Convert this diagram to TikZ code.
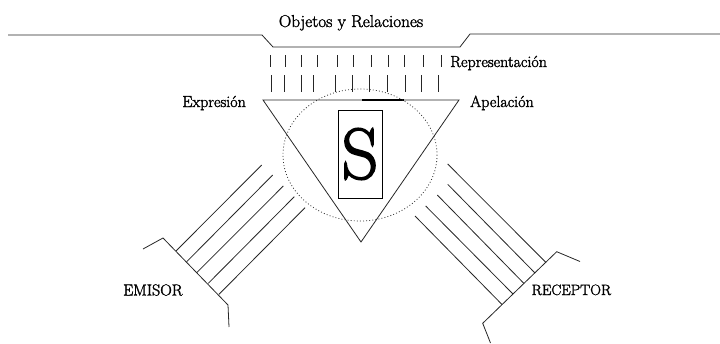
\documentclass[tikz,border=0pt]{standalone}
\usepackage{fontspec}
\newcommand{\thk}[2]{\special{pdf:literal direct 2 Tr #1 w}#2\special{pdf:literal direct 0 Tr}}
\begin{document}
\begin{tikzpicture}[x=1pt,y=-1pt,
  ln/.style={line width=0.8pt,draw=black!85},
  lbl/.style={inner sep=0pt,font=\fontsize{16}{18}\selectfont},
  tick/.style={line width=0.8pt,draw=black!85},
  dotc/.style={line width=0.8pt,draw=black!80,dash pattern=on 0.9pt off 2.2pt}]
\useasboundingbox (0,0) rectangle (720,343);
% top line
\draw[ln] (8,35) -- (262,35) -- (273,47) -- (460,47) -- (470,34) -- (720,34);
\node[lbl,anchor=base,font=\fontsize{17.2}{20}\selectfont] (title) at (351,27) {\thk{0.3}{Objetos y Relaciones}};
% ticks
\foreach \x in {270,285,301,317,337,353,371,388,404,423,441}
  \draw[tick] (\x,55) -- (\x,67);
\foreach \x in {271,284,301,313,335,352,369,387,405,421,438}
  \draw[tick] (\x,75) -- (\x,92);
\node[lbl,anchor=base west] (repr) at (450,67) {\thk{0.3}{Representación}};
% triangle
\coordinate (tl) at (263,100);
\coordinate (tr) at (459,100);
\coordinate (tb) at (361,242);
\draw[ln] (tl) -- (tr) -- (tb) -- cycle;
\draw[line width=2pt] (362,100) -- (404,100);
% dotted circle
\draw[dotc] (360,155) ellipse [x radius=77, y radius=66];
% S box
\node[draw,line width=0.8pt,minimum width=44pt,minimum height=88pt,inner sep=0pt,
  font=\fontsize{72}{72}\selectfont] (S) at (360,154) {\thk{1.6}{S}};
\node[lbl,anchor=base east] (expr) at (246,107) {\thk{0.3}{Expresión}};
\node[lbl,anchor=base west] (apel) at (470,107) {\thk{0.3}{Apelación}};
% emisor side
\draw[ln] (143,249) -- (163,238) -- (228,305) -- (229,327);
\draw[ln] (261.7,165) -- (176,251);
\draw[ln] (272.7,175) -- (186.7,261.7);
\draw[ln] (283.3,186) -- (196.7,272.7);
\draw[ln] (294.3,196.7) -- (208.3,283.3);
\draw[ln] (305,207.7) -- (219,294.3);
\node[lbl,anchor=base west] (emisor) at (123,295.5) {\thk{0.3}{EMISOR}};
% receptor side
\draw[ln] (580,261.5) -- (556.7,251.7) -- (482.7,323.3) -- (490.5,343);
\draw[ln] (447.7,164) -- (546,262.5);
\draw[ln] (447.7,184.3) -- (535,273);
\draw[ln] (437.3,195) -- (524,283.5);
\draw[ln] (425.7,206) -- (513,294);
\draw[ln] (415,216) -- (502,304.5);
\node[lbl,anchor=base west,font=\fontsize{15}{18}\selectfont] (receptor) at (531.5,295) {\thk{0.3}{RECEPTOR}};
\end{tikzpicture}
\end{document}
